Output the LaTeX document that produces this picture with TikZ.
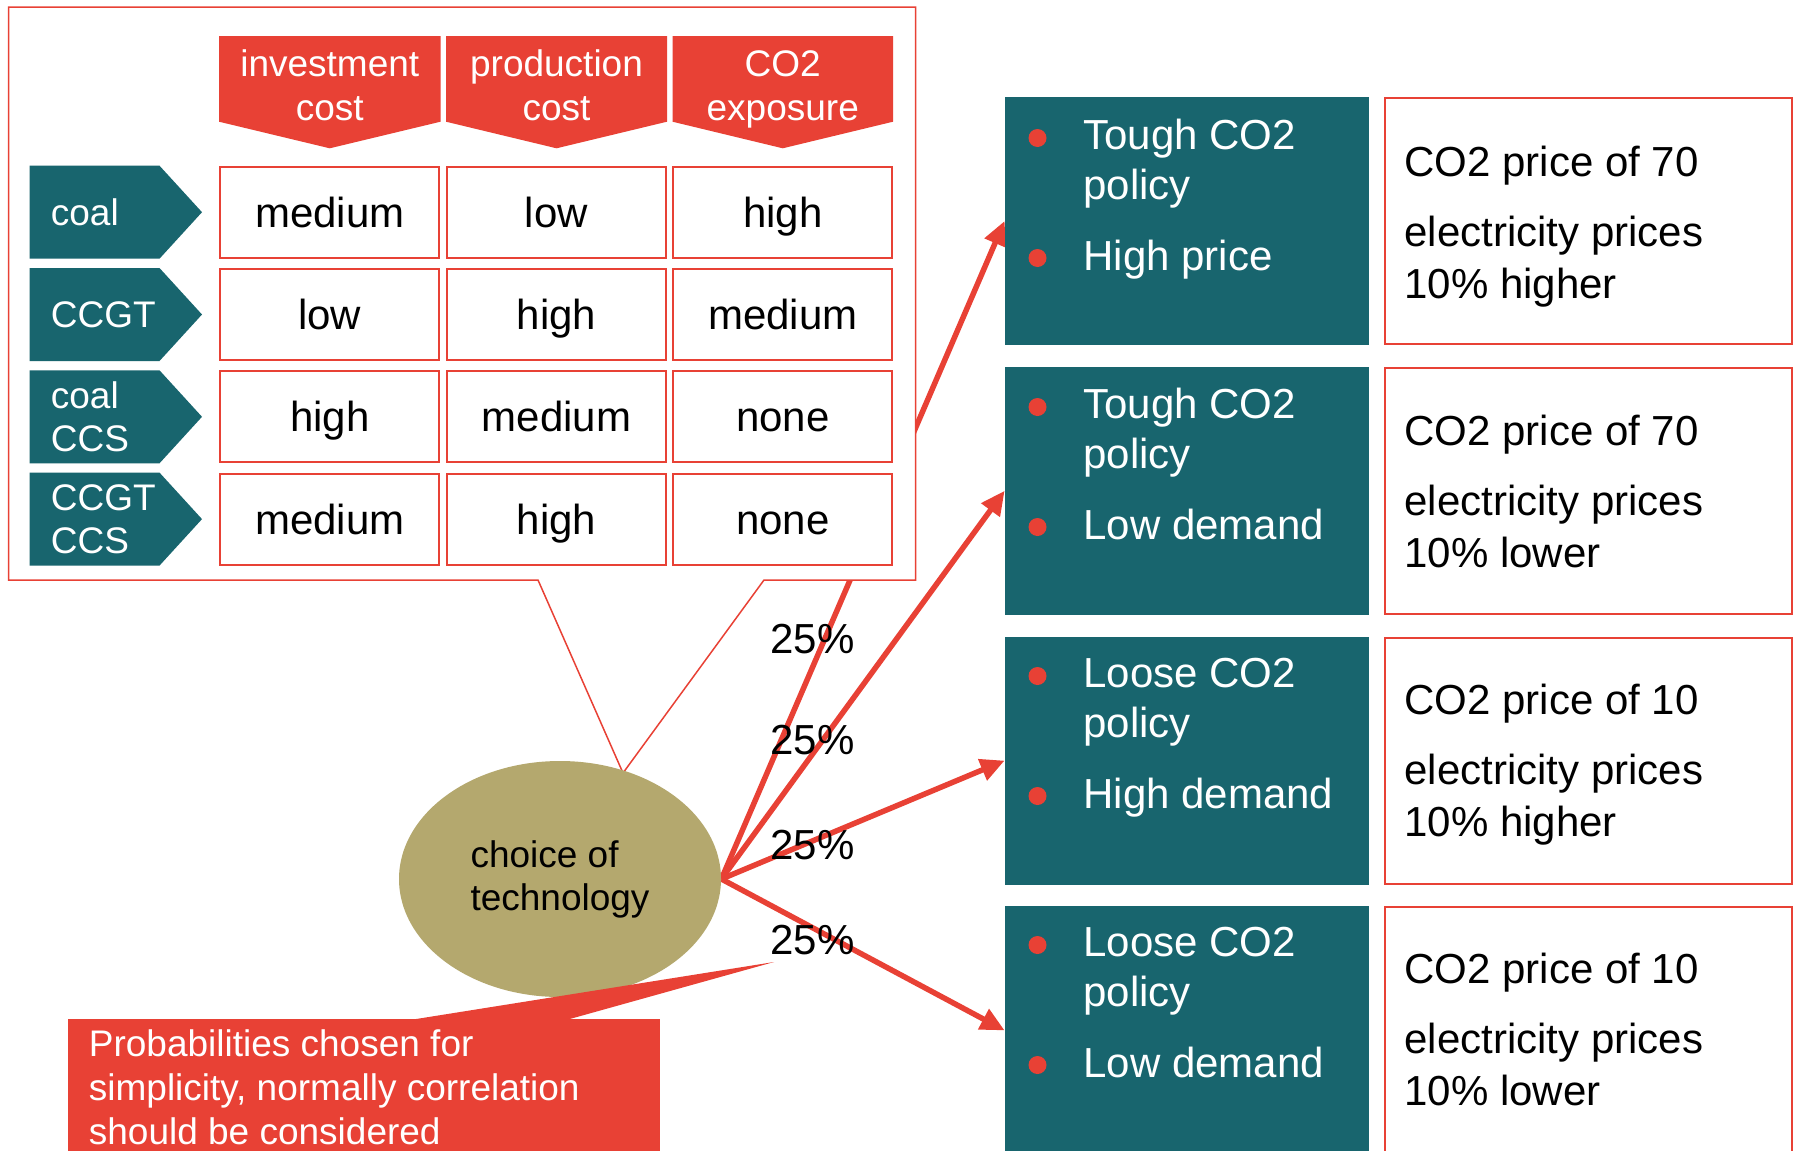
\documentclass[tikz,border=0pt]{standalone}
\usepackage{fontspec}
\setmainfont{Liberation Sans}
\usetikzlibrary{positioning,shapes.geometric,arrows.meta,backgrounds}
\definecolor{tealbox}{RGB}{24,101,110}
\definecolor{hdred}{RGB}{232,65,53}
\definecolor{techolive}{RGB}{180,168,110}
\tikzset{
  headtext/.style={anchor=base, align=center, text=white, font=\fontsize{18.5}{22}\selectfont},
  techtext/.style={anchor=base west, align=left, inner sep=0pt, text=white, font=\fontsize{18.5}{21.75}\selectfont},
  cell/.style={draw=hdred, line width=1pt, fill=white, minimum width=109.5pt, minimum height=45.5pt,
    inner sep=0pt, text height=15pt, text depth=0pt, font=\fontsize{21}{25}\selectfont},
  scen/.style={fill=tealbox, minimum width=182pt, minimum height=124pt, inner sep=0pt},
  scentext/.style={anchor=base west, align=left, inner sep=0pt, text=white, font=\fontsize{21}{25}\selectfont},
  effect/.style={draw=hdred, line width=1pt, minimum width=203.5pt, minimum height=123pt, inner sep=0pt},
  efftext/.style={anchor=base west, align=left, inner sep=0pt, font=\fontsize{21}{26}\selectfont},
  prob/.style={anchor=base west, inner sep=0pt, font=\fontsize{21}{25}\selectfont},
  flow/.style={draw=hdred, line width=2.75pt, -{Triangle[length=12pt,width=11pt]}}
}
\begin{document}
\begin{tikzpicture}[x=0.5pt,y=-0.5pt]
  \useasboundingbox (0,0) rectangle (1799,1151);
  % scenarios (text nodes sit on their last baseline)
  \node[scen] (s1) at (1187,221) {};
  \node[scen, below=10.5pt of s1] (s2) {};
  \node[scen, below=10.5pt of s2] (s3) {};
  \node[scen, below=10.5pt of s3] (s4) {};
  \fill[hdred] (1037.5,138) circle [radius=4.5pt] (1037.5,258) circle [radius=4.5pt];
  \fill[hdred] (1037.5,407) circle [radius=4.5pt] (1037.5,527) circle [radius=4.5pt];
  \fill[hdred] (1037.5,676) circle [radius=4.5pt] (1037.5,796) circle [radius=4.5pt];
  \fill[hdred] (1037.5,945) circle [radius=4.5pt] (1037.5,1065) circle [radius=4.5pt];
  \node[scentext] (t1) at (1083,270) {Tough CO2\\policy\\[10.5pt]High price};
  \node[scentext] (t2) at (1083,539) {Tough CO2\\policy\\[10.5pt]Low demand};
  \node[scentext] (t3) at (1083,808) {Loose CO2\\policy\\[10.5pt]High demand};
  \node[scentext] (t4) at (1083,1077) {Loose CO2\\policy\\[10.5pt]Low demand};
  % effects
  \node[effect, right=7.5pt of s1] (r1) {};
  \node[effect, right=7.5pt of s2] (r2) {};
  \node[effect, right=7.5pt of s3] (r3) {};
  \node[effect, right=7.5pt of s4] (r4) {};
  \node[efftext] (e1) at (1404,298) {CO2 price of 70\\[9pt]electricity prices\\10\% higher};
  \node[efftext] (e2) at (1404,567) {CO2 price of 70\\[9pt]electricity prices\\10\% lower};
  \node[efftext] (e3) at (1404,836) {CO2 price of 10\\[9pt]electricity prices\\10\% higher};
  \node[efftext] (e4) at (1404,1105) {CO2 price of 10\\[9pt]electricity prices\\10\% lower};
  % table callout
  \draw[hdred, line width=0.75pt, fill=white] (8.5,7) -- (915.5,7) -- (915.5,580) -- (764,580)
    -- (623,773) -- (538,580) -- (8.5,580) -- cycle;
  \fill[hdred] (219,36) -- (440.5,36) -- (440.5,121.7) -- (329.75,148.3) -- (219,121.7) -- cycle;
  \fill[hdred] (446,36) -- (667,36) -- (667,121.7) -- (556.5,148.3) -- (446,121.7) -- cycle;
  \fill[hdred] (672.5,36) -- (893,36) -- (893,121.7) -- (782.75,148.3) -- (672.5,121.7) -- cycle;
  \node[headtext] (inv) at (329.75,120.7) {investment\\cost};
  \node[headtext] (prod) at (556.5,120.7) {production\\cost};
  \node[headtext] (expo) at (782.75,120.7) {CO2\\exposure};
  \fill[tealbox] (29.5,165.7) -- (159.5,165.7) -- (202,212.2) -- (159.5,258.7) -- (29.5,258.7) -- cycle;
  \fill[tealbox] (29.5,268) -- (159.5,268) -- (202,314.5) -- (159.5,361) -- (29.5,361) -- cycle;
  \fill[tealbox] (29.5,370.3) -- (159.5,370.3) -- (202,416.8) -- (159.5,463.3) -- (29.5,463.3) -- cycle;
  \fill[tealbox] (29.5,472.6) -- (159.5,472.6) -- (202,519.1) -- (159.5,565.6) -- (29.5,565.6) -- cycle;
  \node[techtext] (coal) at (50.5,225.5) {coal};
  \node[techtext] (ccgt) at (50.5,327.5) {CCGT};
  \node[techtext] (coalccs) at (50.5,451.5) {coal\\CCS};
  \node[techtext] (ccgtccs) at (50.5,553.8) {CCGT\\CCS};
  \node[cell] (invA) at (329.75,212.2) {medium};
  \node[cell] (prodA) at (556.5,212.2) {low};
  \node[cell] (expoA) at (782.75,212.2) {high};
  \node[cell] (invB) at (329.75,314.5) {low};
  \node[cell] (prodB) at (556.5,314.5) {high};
  \node[cell] (expoB) at (782.75,314.5) {medium};
  \node[cell] (invC) at (329.75,416.8) {high};
  \node[cell] (prodC) at (556.5,416.8) {medium};
  \node[cell] (expoC) at (782.75,416.8) {none};
  \node[cell] (invD) at (329.75,519.1) {medium};
  \node[cell] (prodD) at (556.5,519.1) {high};
  \node[cell] (expoD) at (782.75,519.1) {none};
  % decision node and branches
  \node[ellipse, fill=techolive, minimum width=161pt, minimum height=118pt, inner sep=0pt, align=left,
    font=\fontsize{18.5}{21.5}\selectfont] (choice) at (560,879) {choice of\\technology};
  \begin{scope}[on background layer]
    \draw[flow] (choice.east) -- (s1.west);
    \draw[flow] (choice.east) -- (s2.west);
    \draw[flow] (choice.east) -- (s3.west);
    \draw[flow] (choice.east) -- (s4.west);
  \end{scope}
  \node[prob] (p1) at (770,653.5) {25\%};
  \node[prob] (p2) at (770,754.5) {25\%};
  \node[prob] (p3) at (770,859) {25\%};
  \node[prob] (p4) at (770,954.5) {25\%};
  % note
  \fill[hdred] (68,1019) rectangle (659.5,1160);
  \fill[hdred] (413,1019.5) -- (774,962) -- (568,1019.5) -- cycle;
  \node[anchor=base west, align=left, inner sep=0pt, text=white, font=\fontsize{18.5}{22}\selectfont] (note)
    at (88.5,1144.7) {Probabilities chosen for\\simplicity, normally correlation\\should be considered};
\end{tikzpicture}
\end{document}
